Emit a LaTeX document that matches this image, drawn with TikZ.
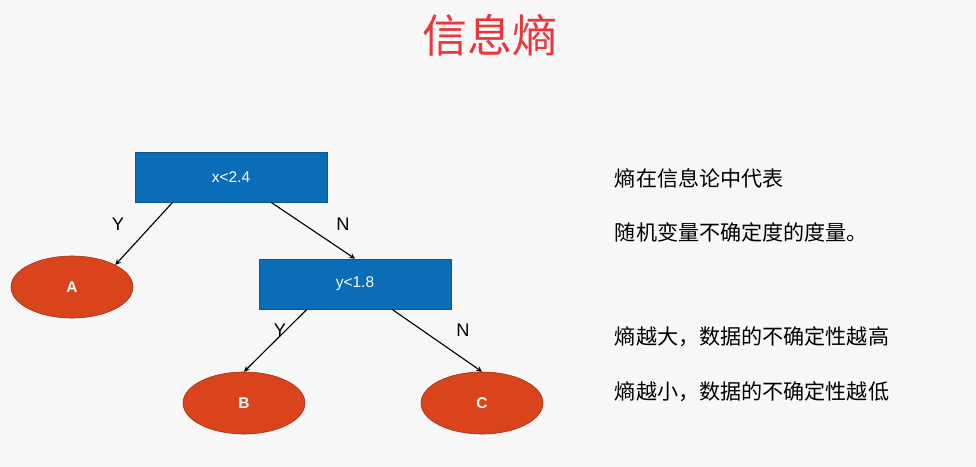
\documentclass[tikz,border=0pt]{standalone}
\usepackage{fontspec}
\setmainfont{Liberation Sans}
\newfontfamily\cjk{Noto Sans CJK SC}
\usetikzlibrary{shapes.geometric}
\definecolor{boxblue}{HTML}{0B6DB7}
\definecolor{leafred}{HTML}{D9441C}
\definecolor{titlered}{HTML}{E8383D}
\tikzset{ test/.style = { rectangle
                          , fill = boxblue
                          , draw = boxblue!80!black
                          , text = white
                          , font = \fontsize{11}{13}\selectfont
                          , minimum width  = 4.8cm
                          , minimum height = 1.25cm
                          },
          leaf/.style = { ellipse
                          , fill = leafred
                          , draw = leafred!70!black
                          , text = white
                          , font = \bfseries\fontsize{11}{13}\selectfont
                          , minimum width  = 3.05cm
                          , minimum height = 1.55cm
                          },
          lbl/.style  = { font = \fontsize{13}{15}\selectfont },
          note/.style = { anchor = west
                          , font = \cjk\fontsize{15}{18}\selectfont
                          },
          arr/.style  = { ->, >=stealth, thick }
        }
\begin{document}
\begin{tikzpicture}[x=0.025cm,y=-0.025cm]
  \fill[gray!6] (0,0) rectangle (976,467);
  \node[text=titlered, font=\cjk\fontsize{32}{36}\selectfont] (title) at (490,35) {信息熵};
  % tree
  \node[test] (xt) at (231,177) {x<2.4};
  \node[test] (yt) at (355,284) {y<1.8};
  \node[leaf] (A) at (72,287) {A};
  \node[leaf] (B) at (244,403) {B};
  \node[leaf] (C) at (482,403) {C};
  \draw[arr] (xt.south west) ++(38,0) coordinate (xa) -- (A.north east);
  \draw[arr] (xt.south) ++(40,0) coordinate (xb) -- (yt.north);
  \draw[arr] (yt.south) ++(-48,0) coordinate (ya) -- (B.north);
  \draw[arr] (yt.south) ++(37,0) coordinate (yb) -- (C.north);
  \node[lbl] (y1) at (118,224) {Y};
  \node[lbl] (n1) at (343,224) {N};
  \node[lbl] (y2) at (280,330) {Y};
  \node[lbl] (n2) at (463,330) {N};
  % notes
  \node[note] (t1) at (610,178) {熵在信息论中代表};
  \node[note] (t2) at (610,232) {随机变量不确定度的度量。};
  \node[note] (t3) at (610,337) {熵越大，数据的不确定性越高};
  \node[note] (t4) at (610,392) {熵越小，数据的不确定性越低};
\end{tikzpicture}
\end{document}
